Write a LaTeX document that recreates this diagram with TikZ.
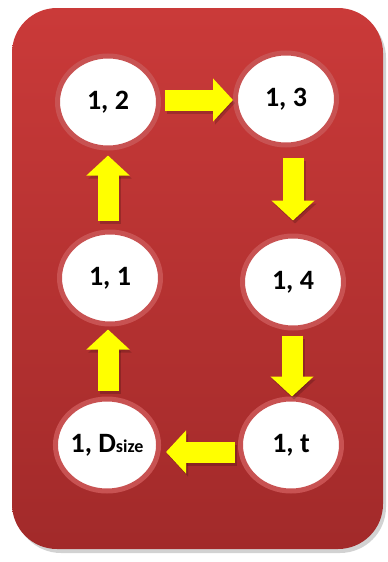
\documentclass[tikz,border=0pt]{standalone}
\usepackage{fontspec}
\setmainfont{Carlito}
\usetikzlibrary{shapes.geometric,arrows.meta}
\definecolor{bgtop}{RGB}{202,58,57}
\definecolor{bgbot}{RGB}{162,42,42}
\definecolor{ring}{RGB}{200,82,82}
\definecolor{arrowyel}{RGB}{255,255,0}
\tikzset{
  state/.style={ellipse, fill=white, draw=ring, line width=5pt,
    minimum width=101pt, minimum height=92pt, inner sep=0pt,
    font=\fontsize{28}{30}\selectfont\bfseries},
  blockarrow/.style={draw=arrowyel, line width=21pt, line cap=butt,
    -{Triangle[length=20pt,width=42pt]}, arrowyel},
  arrowshadow/.style={draw=black, line width=21pt, line cap=butt,
    -{Triangle[length=20pt,width=42pt]}, opacity=0.18}
}
\begin{document}
\begin{tikzpicture}[x=1pt,y=-1pt]
\useasboundingbox (0,0) rectangle (388,562);
% shadow of board
\fill[black!35,opacity=0.5,rounded corners=46pt] (15,12) rectangle (386,553);
\shade[top color=bgtop, bottom color=bgbot, rounded corners=45pt]
  (12,8) rectangle (383,549);
% nodes
\node[state] (n12) at (108,102) {1, 2};
\node[state] (n13) at (286,99) {1, 3};
\node[state] (n11) at (110,278) {1, 1};
\node[state] (n14) at (293,282) {1, 4};
\node[state] (nd) at (107,445) {1, D{\fontsize{18}{20}\selectfont size}};
\node[state] (nt) at (291,445) {1, t};
% arrows (shadow first, then arrow)
\foreach \st/\sh in {arrowshadow/{shift={(2pt,-3pt)}}, blockarrow/{}}{
  \begin{scope}[transform canvas/.expanded={\sh}]
  \draw[\st, shorten <=4pt] ([yshift=2pt]n12.east) -- ([yshift=2pt]n12.east -| n13.west);
  \draw[\st, shorten <=10pt, shorten >=13pt] ([xshift=7pt]n13.south) -- ([xshift=7pt]n13.south |- n14.north);
  \draw[\st, shorten <=5pt] ([xshift=-1pt]n14.south) -- ([xshift=-1pt]n14.south |- nt.north);
  \draw[\st, shorten <=3pt, shorten >=5pt] ([yshift=-7pt]nt.west) -- ([yshift=-7pt]nt.west -| nd.east);
  \draw[\st, shorten <=6pt, shorten >=3pt] ([xshift=1pt]nd.north) -- ([xshift=1pt]nd.north |- n11.south);
  \draw[\st, shorten <=9pt, shorten >=5pt] ([xshift=-2pt]n11.north) -- ([xshift=-2pt]n11.north |- n12.south);
  \end{scope}
}
\end{tikzpicture}
\end{document}
